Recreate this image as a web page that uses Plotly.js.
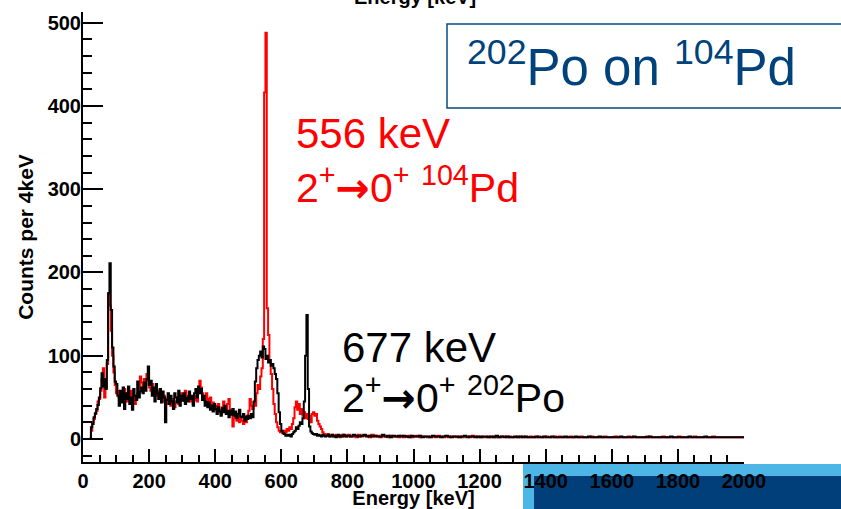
<!DOCTYPE html>
<html>
<head>
<meta charset="utf-8">
<script src="https://cdn.plot.ly/plotly-3.0.1.min.js"></script>
<style>html,body{margin:0;padding:0;background:#fff;}#chart{width:841px;height:509px;}</style>
</head>
<body>
<div id="chart"></div>
<script>
// ---- Data (counts per 4 keV bin) ----
// fine bins: 4 keV wide, starting at 20 keV, up to 800 keV
const fineStart = 20;
const fineWidth = 4;
const black202Po = [
  1,14,18,26,31,
  36,41,50,61,79,63,72,60,95,175,
  211,155,110,87,69,66,52,40,58,44,
  62,36,55,48,63,42,50,35,60,52,
  47,69,50,57,62,55,68,58,72,87,
  65,70,52,62,45,66,55,48,60,44,
  57,50,20,47,55,42,52,45,36,55,
  50,44,58,40,52,46,55,42,50,45,
  57,48,52,40,55,60,50,63,55,60,
  47,52,40,45,38,44,35,40,33,42,
  36,30,38,33,28,37,32,40,30,34,
  26,34,29,36,28,33,25,30,35,27,
  26,30,22,27,24,28,25,30,26,45,
  69,85,95,100,105,98,111,108,96,100,
  92,95,88,90,85,78,72,55,32,18,
  10,7,6,4,5,4,5,3,6,8,
  10,14,12,16,20,18,25,45,100,149,
  60,15,9,7,6,5,6,4,5,4,
  3,5,4,3,4,5,3,4,5,3,
  4,2,4,5,3,4,3,5,4,3
];
const red104Pd = [
  0,10,20,24,30,
  34,45,48,58,72,85,50,62,90,175,
  160,130,100,80,65,55,58,50,45,56,
  48,60,52,45,55,50,58,45,52,42,
  48,55,60,75,68,62,72,65,78,70,
  62,58,66,55,60,52,58,48,55,50,
  45,52,48,42,50,46,40,48,44,38,
  45,50,42,48,55,50,46,58,52,48,
  55,45,50,42,47,52,45,55,70,62,
  55,50,45,55,48,42,50,38,44,35,
  40,33,42,35,30,38,45,36,32,42,
  48,35,30,15,25,30,22,28,20,26,
  22,18,25,20,28,34,48,40,36,44,
  40,55,65,60,75,85,120,416,488,157,
  125,95,78,60,42,30,20,14,10,8,
  9,7,10,8,12,10,14,12,18,25,
  38,45,35,42,30,36,28,32,25,30,
  24,28,20,30,32,28,30,22,18,15,
  12,8,6,5,4,6,4,3,5,4,
  3,5,4,3,2,4,5,3,4,3
];
// tail: 8 keV wide display bins from 800 to 2000 keV
const tailStart = 800;
const tailWidth = 8;
const blackTail = [
  4,3,5,4,3,4,5,3,4,3, 4,3,3,5,3,4,2,4,3,4, 3,4,3,2,4,3,3,4,2,3,
  3,2,4,3,3,2,3,4,3,2, 3,3,2,3,4,2,3,3,2,3, 2,3,3,2,3,2,4,2,3,2,
  3,2,2,3,2,3,2,3,2,2, 2,3,2,2,3,2,2,3,2,2, 2,2,3,2,2,2,3,2,2,2,
  2,3,2,2,2,3,2,2,2,2, 2,2,2,3,2,2,2,2,3,2, 2,2,2,2,3,2,2,2,2,2,
  2,2,3,2,2,2,2,2,2,3, 2,2,2,2,2,3,2,2,2,2, 2,2,2,2,2,2,2,2,2,2
];
const redTail = [
  5,3,4,2,5,3,4,4,2,5, 3,4,2,4,3,2,4,3,3,2, 4,2,3,4,2,3,4,2,3,3,
  2,3,3,2,4,3,2,3,2,3, 3,2,3,2,3,3,2,4,3,2, 3,2,2,3,2,3,2,2,3,3,
  2,3,2,2,3,2,3,2,2,3, 2,2,3,2,2,3,2,2,3,2, 3,2,2,2,3,2,2,2,3,2,
  2,2,3,2,2,2,2,3,2,2, 2,3,2,2,2,2,3,2,2,2, 2,2,2,3,2,2,2,2,2,3,
  2,2,2,2,2,3,2,2,2,2, 2,3,2,2,2,2,2,2,3,2, 2,2,2,2,2,2,2,2,2,2
];
const xTickVals = [0,200,400,600,800,1000,1200,1400,1600,1800,2000];
const yTickVals = [0,100,200,300,400,500];

// ---- build step histograms ----
function hist(fine, tail) {
  const x = [], y = [];
  fine.forEach((v, i) => { x.push(fineStart + i * fineWidth); y.push(v); });
  tail.forEach((v, i) => { x.push(tailStart + i * tailWidth); y.push(v); });
  x.push(tailStart + tail.length * tailWidth); y.push(tail[tail.length - 1]);
  return {x, y};
}
const hr = hist(red104Pd, redTail);
const hb = hist(black202Po, blackTail);

const FONT = 'Liberation Sans, Arial, Helvetica, sans-serif';
const L = 83, R = 744, T = 12, B = 462, W = 841, H = 509;
const px = v => (v - L) / (R - L);
const py = v => (B - v) / (B - T);

const traces = [
  {x: hr.x, y: hr.y, type: 'scatter', mode: 'lines', line: {shape: 'hv', color: '#ff0000', width: 2}, hoverinfo: 'skip'},
  {x: hb.x, y: hb.y, type: 'scatter', mode: 'lines', line: {shape: 'hv', color: '#000000', width: 2}, hoverinfo: 'skip'}
];

const ARROW = '<span style="font-family:DejaVu Sans;font-weight:bold">→</span>';
const boxBlue = '#0b4a80';
const layout = {
  width: W, height: H,
  margin: {l: L, r: W - R, t: T, b: H - B, pad: 0},
  paper_bgcolor: '#ffffff', plot_bgcolor: '#ffffff',
  showlegend: false,
  font: {family: FONT, color: '#000'},
  xaxis: {
    range: [0, 2000], showgrid: false, zeroline: false,
    showline: true, linecolor: '#000', linewidth: 2, mirror: false,
    ticks: 'inside', ticklen: 13, tickwidth: 2, tickcolor: '#000',
    tickvals: xTickVals, ticktext: xTickVals.map(String),
    tickfont: {family: FONT, size: 20, weight: 700, color: '#000'},
    minor: {ticks: 'inside', ticklen: 7, tickwidth: 2, tickcolor: '#000', dtick: 50, showgrid: false},
    title: {text: 'Energy [keV]', font: {family: FONT, size: 20, weight: 700, color: '#000'}, standoff: 2}
  },
  yaxis: {
    range: [-27.6, 512.8], showgrid: false, zeroline: false,
    showline: true, linecolor: '#000', linewidth: 2,
    ticks: 'inside', ticklen: 20, tickwidth: 2, tickcolor: '#000',
    ticklabelstandoff: -4,
    tickvals: yTickVals, ticktext: yTickVals.map(String),
    tickfont: {family: FONT, size: 20, weight: 700, color: '#000'},
    minor: {ticks: 'inside', ticklen: 9, tickwidth: 2, tickcolor: '#000', dtick: 20, showgrid: false},
    title: {text: 'Counts per 4keV', font: {family: FONT, size: 21, weight: 700, color: '#000'}, standoff: 8}
  },
  shapes: [
    {type: 'rect', xref: 'paper', yref: 'paper', layer: 'below',
     x0: px(523), x1: px(845), y0: py(515), y1: py(464), fillcolor: '#4db6e6', line: {width: 0}},
    {type: 'rect', xref: 'paper', yref: 'paper', layer: 'below',
     x0: px(534), x1: px(845), y0: py(515), y1: py(476), fillcolor: '#013f7a', line: {width: 0}},
    {type: 'rect', xref: 'paper', yref: 'paper', layer: 'above',
     x0: px(447), x1: px(846), y0: py(108), y1: py(24), fillcolor: '#ffffff', line: {color: boxBlue, width: 1.5}}
  ],
  annotations: [
    {xref: 'paper', yref: 'paper', x: px(415), y: py(-3), xanchor: 'center', yanchor: 'middle', showarrow: false,
     text: 'Energy [keV]', font: {family: FONT, size: 20, weight: 700, color: '#000'}},
    {xref: 'paper', yref: 'paper', x: px(465), y: py(64), xanchor: 'left', yanchor: 'middle', showarrow: false,
     text: '<sup>202</sup>Po on <sup>104</sup>Pd', font: {family: FONT, size: 51, color: '#00427c'}},
    {xref: 'paper', yref: 'paper', x: px(294), y: py(133), xanchor: 'left', yanchor: 'middle', showarrow: false,
     text: '556 keV', font: {family: FONT, size: 42, color: '#ff0000'}},
    {xref: 'paper', yref: 'paper', x: px(294), y: py(185), xanchor: 'left', yanchor: 'middle', showarrow: false,
     text: '2<sup>+</sup>' + ARROW + '0<sup>+</sup> <sup>104</sup>Pd', font: {family: FONT, size: 41, color: '#ff0000'}},
    {xref: 'paper', yref: 'paper', x: px(340), y: py(347), xanchor: 'left', yanchor: 'middle', showarrow: false,
     text: '677 keV', font: {family: FONT, size: 42, color: '#000000'}},
    {xref: 'paper', yref: 'paper', x: px(340), y: py(395), xanchor: 'left', yanchor: 'middle', showarrow: false,
     text: '2<sup>+</sup>' + ARROW + '0<sup>+</sup> <sup>202</sup>Po', font: {family: FONT, size: 41, color: '#000000'}}
  ]
};

Plotly.newPlot('chart', traces, layout, {staticPlot: true, displayModeBar: false});
</script>
</body>
</html>
